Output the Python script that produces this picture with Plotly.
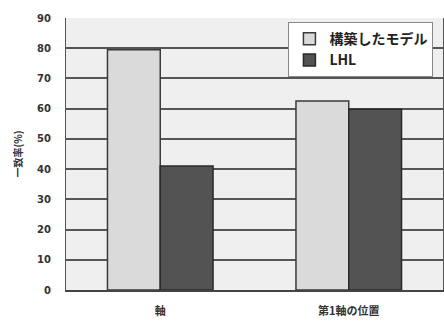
import plotly.graph_objects as go

categories = ["軸", "第1軸の位置"]
model_vals = [79.5, 62.5]
lhl_vals = [41, 59.8]
series_names = ["構築したモデル", "LHL"]
y_ticks = [0, 10, 20, 30, 40, 50, 60, 70, 80, 90]

font = "Noto Sans CJK JP"

fig = go.Figure()
fig.add_trace(go.Bar(
    x=categories, y=model_vals, name=series_names[0],
    marker=dict(color="#dadada", line=dict(color="#3a3a3a", width=1.5)),
))
fig.add_trace(go.Bar(
    x=categories, y=lhl_vals, name=series_names[1],
    marker=dict(color="#535353", line=dict(color="#2a2a2a", width=1.5)),
))

fig.update_layout(
    width=444, height=329,
    margin=dict(l=66, r=1, t=18, b=39),
    paper_bgcolor="white",
    plot_bgcolor="#efefef",
    barmode="group",
    bargap=0.44,
    bargroupgap=0,
    font=dict(family=font, size=11, color="#333333"),
    showlegend=True,
    legend=dict(
        x=0.59, y=0.985, xanchor="left", yanchor="top",
        bgcolor="white", bordercolor="#888888", borderwidth=1,
        font=dict(family=font, size=14, color="#222222", weight="bold"),
        itemwidth=30, tracegroupgap=0,
    ),
    xaxis=dict(
        showgrid=False, showline=True, linecolor="#444444", linewidth=1.5,
        ticks="", ticklabelstandoff=10,
        tickfont=dict(family=font, size=11, color="#333333", weight="bold"),
    ),
    yaxis=dict(
        range=[0, 90], tickvals=y_ticks, ticktext=[str(v) for v in y_ticks],
        showgrid=True, gridcolor="#555555", gridwidth=1.5,
        showline=True, linecolor="#555555", linewidth=1, mirror=True,
        ticks="", ticklen=0, ticklabelstandoff=12,
        tickfont=dict(family="DejaVu Sans", size=10, color="#333333", weight="bold"),
        title=dict(text="一致率(%)", font=dict(family=font, size=10, color="#333333", weight="bold"), standoff=12),
        zeroline=False,
    ),
)

fig.write_html("out.html")
